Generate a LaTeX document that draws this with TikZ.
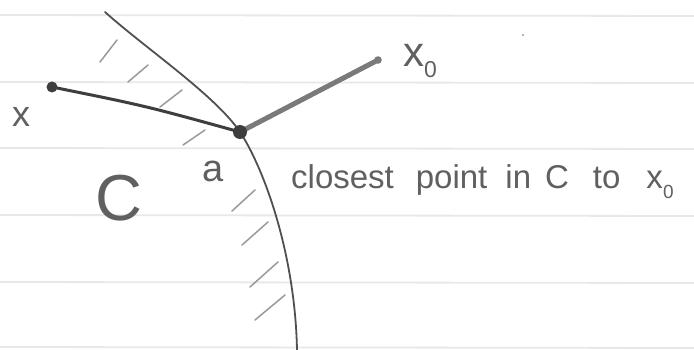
\documentclass[tikz,border=0pt]{standalone}
\usepackage{fontspec}
\setmainfont{Liberation Sans}
\definecolor{inkgray}{HTML}{505050}
\definecolor{darkink}{HTML}{3E3E3E}
\definecolor{thickgray}{HTML}{7A7A7A}
\definecolor{textgray}{HTML}{606060}
\definecolor{hatchgray}{HTML}{9A9A9A}
\definecolor{rulegray}{HTML}{E8E8E8}
\newcommand\fsz[1]{\fontsize{#1}{#1}\selectfont}
\begin{document}
\begin{tikzpicture}[x=1pt,y=-1pt,
  rule/.style={draw=rulegray, line width=1.8pt},
  hatch/.style={draw=hatchgray, line width=1.5pt, line cap=round},
  boundary/.style={draw=inkgray, line width=1.8pt, line cap=round},
  lbl/.style={text=textgray, inner sep=0pt, anchor=base west},
  dot/.style={fill=darkink}]
\useasboundingbox[fill=white] (0,0) rectangle (694,350);
% ruled paper
\foreach \y in {15,82,148,215,282,347} \draw[rule] (0,\y) -- (694,\y+1);
% points
\coordinate (a) at (240,132);
\coordinate (x) at (52,87);
\coordinate (x0) at (378,60);
\coordinate (top) at (105,12);
\coordinate (bot) at (297,350);
% hatching on the C side
\foreach \p/\q in {{(100,62)}/{(117,40)}, {(128,82)}/{(148,65)}, {(160,107)}/{(182,90)},
  {(183,145)}/{(205,130)}, {(232,211)}/{(255,190)}, {(242,245)}/{(268,222)},
  {(250,287)}/{(278,262)}, {(255,320)}/{(285,295)}}
  \draw[hatch] \p -- \q;
% boundary of C
\draw[boundary] (top) .. controls (145,48) and (215,95) .. (a)
  .. controls (262,165) and (295,250) .. (bot);
% segments
\draw[draw=darkink, line width=3pt, line cap=round] (x) .. controls (146,106) .. (a);
\draw[draw=thickgray, line width=5pt, line cap=round] (a) -- (x0);
\fill[dot] (a) circle (7);
\fill[dot] (x) circle (5.5);
\fill[thickgray] (x0) circle (3.8);
\fill[hatchgray] (523,35) circle (1.1);
% labels
\node[lbl, font=\fsz{36}] (xl) at (12,127) {x};
\node[lbl, font=\fsz{42}] (x0l) at (403,67) {x\raisebox{-11pt}{\fsz{23}0}};
\node[lbl, font=\fsz{38}] (al) at (202,182) {a};
\node[lbl, font=\fsz{65}] (Cl) at (95,220) {C};
\node[lbl, font=\fsz{33}] (cap) at (291,189)
  {closest\hspace{22pt}point\hspace{18pt}in\hspace{14pt}C\hspace{24pt}to\hspace{26pt}x\raisebox{-10pt}{\fsz{19}0}};
\end{tikzpicture}
\end{document}
